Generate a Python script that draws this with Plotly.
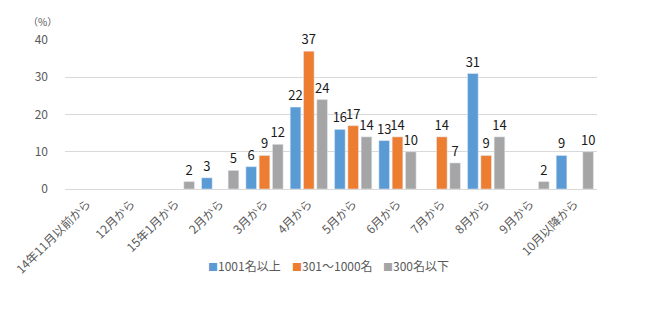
import plotly.graph_objects as go

categories = ["14年11月以前から", "12月から", "15年1月から", "2月から", "3月から", "4月から",
              "5月から", "6月から", "7月から", "8月から", "9月から", "10月以降から"]
large = [None, None, None, 3, 6, 22, 16, 13, None, 31, None, 9]
medium = [None, None, None, None, 9, 37, 17, 14, 14, 9, None, None]
small = [None, None, 2, 5, 12, 24, 14, 10, 7, 14, 2, 10]
series_names = ["1001名以上", "301～1000名", "300名以下"]
colors = ["#5b9bd5", "#ed7d31", "#a5a5a5"]

font_family = "Noto Sans CJK JP, Noto Sans, sans-serif"
L, R, T, B = 61, 52, 40, 136
W, H = 649, 325
pw, ph = W - L - R, H - T - B

fig = go.Figure()
for name, vals, col in zip(series_names, [large, medium, small], colors):
    fig.add_trace(go.Bar(
        x=categories, y=vals, name=name, marker_color=col,
        text=[("" if v is None else str(v)) for v in vals],
        textposition="outside", cliponaxis=False,
        textfont=dict(size=13, color="#1a1a1a", family=font_family),
    ))

def px_x(p):
    return (p - L) / pw

def px_y(p):
    return (H - B - p) / ph

annotations = [dict(text="（%）", x=px_x(38), y=px_y(21), xref="paper", yref="paper",
                    showarrow=False, xanchor="center", yanchor="middle",
                    font=dict(size=10, color="#595959"))]
legend_x = [203, 288, 379]
for name, col, lx in zip(series_names, colors, legend_x):
    annotations.append(dict(
        text=f'<span style="color:{col};font-size:10px">■</span>{name}',
        x=px_x(lx), y=px_y(265), xref="paper", yref="paper", showarrow=False,
        xanchor="left", yanchor="middle", font=dict(size=12, color="#595959")))

fig.update_layout(
    width=W, height=H,
    margin=dict(l=L, r=R, t=T, b=B),
    plot_bgcolor="white", paper_bgcolor="white",
    barmode="group", bargap=0.1, bargroupgap=0.2,
    font=dict(family=font_family, size=12, color="#595959"),
    showlegend=False,
    uniformtext=dict(minsize=13, mode="show"),
    yaxis=dict(range=[0, 40], dtick=10, showgrid=True, gridcolor="#d9d9d9", gridwidth=1,
               zeroline=False, showline=False, ticks="", tickfont=dict(size=12, color="#595959"),
               ticklabelstandoff=16),
    xaxis=dict(showline=True, linecolor="#d9d9d9", linewidth=1, ticks="", tickangle=-45,
               tickfont=dict(size=12, color="#595959"), ticklabelstandoff=2),
    annotations=annotations,
)
fig.write_html("out.html")
